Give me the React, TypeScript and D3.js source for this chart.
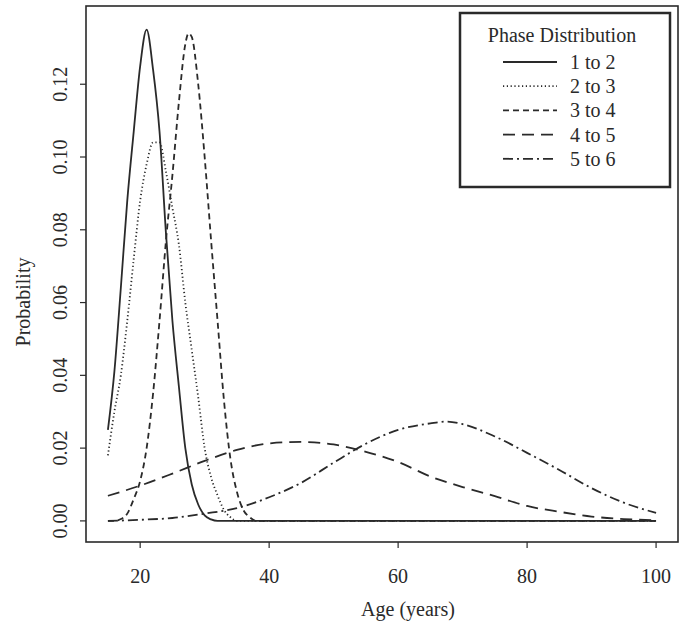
import React from 'react';
import * as d3 from 'd3';

// phase 1 to 2
const ages12 = [15, 16, 17, 18, 19, 20, 21, 22, 23, 24, 25, 26, 27, 28, 29, 30, 31, 32, 100];
const prob12 = [0.025, 0.041, 0.064, 0.088, 0.107, 0.125, 0.135, 0.124, 0.107, 0.079, 0.055, 0.037, 0.02, 0.01, 0.0045, 0.0015, 0.0004, 0, 0];

// phase 2 to 3
const ages23 = [15, 16, 17, 18, 19, 20, 21, 22, 23, 24, 25, 26, 27, 28, 29, 30, 31, 32, 33, 34, 35, 100];
const prob23 = [0.018, 0.03, 0.04, 0.055, 0.072, 0.088, 0.098, 0.104, 0.104, 0.096, 0.086, 0.076, 0.06, 0.047, 0.034, 0.02, 0.012, 0.007, 0.003, 0.001, 0, 0];

// phase 3 to 4
const ages34 = [15, 16, 17, 18, 19, 20, 21, 22, 23, 24, 25, 26, 27, 27.5, 28, 29, 30, 31, 32, 33, 34, 35, 36, 37, 38, 100];
const prob34 = [0, 0, 0.0005, 0.002, 0.006, 0.011, 0.02, 0.035, 0.055, 0.077, 0.095, 0.115, 0.131, 0.134, 0.133, 0.12, 0.1, 0.077, 0.055, 0.033, 0.017, 0.008, 0.003, 0.001, 0, 0];

// phase 4 to 5
const ages45 = [15, 20, 25, 30, 35, 40, 45, 50, 55, 60, 65, 70, 75, 80, 85, 90, 95, 100];
const prob45 = [0.0069, 0.0097, 0.013, 0.0165, 0.0195, 0.0213, 0.0217, 0.021, 0.019, 0.0162, 0.0122, 0.0093, 0.0068, 0.0041, 0.0025, 0.0012, 0.0005, 0.0002];

// phase 5 to 6
const ages56 = [15, 20, 25, 30, 35, 40, 45, 50, 55, 60, 65, 67.5, 70, 75, 80, 85, 90, 95, 100];
const prob56 = [0, 0.0003, 0.0008, 0.002, 0.0035, 0.0065, 0.0105, 0.016, 0.0212, 0.025, 0.0268, 0.0273, 0.0266, 0.0232, 0.0187, 0.014, 0.009, 0.005, 0.0022];

const xTicks = [20, 40, 60, 80, 100];
const yTicks = [0, 0.02, 0.04, 0.06, 0.08, 0.1, 0.12];
const legendLabels = ['1 to 2', '2 to 3', '3 to 4', '4 to 5', '5 to 6'];

const series = [
  { ages: ages12, probs: prob12, dash: 'none' },
  { ages: ages23, probs: prob23, dash: '1.2 2.6' },
  { ages: ages34, probs: prob34, dash: '6 4' },
  { ages: ages45, probs: prob45, dash: '12 7' },
  { ages: ages56, probs: prob56, dash: '10 4 2 4' },
];

const W = 685;
const H = 629;
const font = '"Liberation Serif", "Times New Roman", serif';
const ink = '#2a2a2a';

export default function App() {
  const x = d3.scaleLinear().domain([11.6, 103.4]).range([86, 678]);
  const y = d3.scaleLinear().domain([-0.0058, 0.1415]).range([542, 6]);

  const line = d3
    .line<[number, number]>()
    .x((d) => x(d[0]))
    .y((d) => y(d[1]))
    .curve(d3.curveMonotoneX);

  const [x0, x1] = x.range();
  const [yb, yt] = y.range();

  return (
    <svg width={W} height={H} style={{ position: 'absolute', left: 0, top: 0, background: '#fff' }}>
      <rect x={0} y={0} width={W} height={H} fill="#fff" />
      {series.map((s, i) => (
        <path
          key={i}
          d={line(s.ages.map((a, j) => [a, s.probs[j]] as [number, number])) || ''}
          fill="none"
          stroke={ink}
          strokeWidth={1.8}
          strokeDasharray={s.dash}
        />
      ))}
      {/* frame */}
      <rect x={x0} y={yt} width={x1 - x0} height={yb - yt} fill="none" stroke={ink} strokeWidth={1.6} />
      {/* x axis */}
      {xTicks.map((t) => (
        <g key={t}>
          <line x1={x(t)} x2={x(t)} y1={yb} y2={yb + 6} stroke={ink} strokeWidth={1.2} />
          <text x={x(t)} y={583} textAnchor="middle" fontFamily={font} fontSize={20} fill={ink}>
            {t}
          </text>
        </g>
      ))}
      {/* y axis */}
      {yTicks.map((t) => (
        <g key={t}>
          <line x1={x0} x2={x0 - 6} y1={y(t)} y2={y(t)} stroke={ink} strokeWidth={1.2} />
          <text
            transform={`translate(67,${y(t)}) rotate(-90)`}
            textAnchor="middle"
            fontFamily={font}
            fontSize={20}
            fill={ink}
          >
            {t.toFixed(2)}
          </text>
        </g>
      ))}
      <text x={408} y={616} textAnchor="middle" fontFamily={font} fontSize={20} fill={ink}>
        Age (years)
      </text>
      <text transform="translate(30,302) rotate(-90)" textAnchor="middle" fontFamily={font} fontSize={20} fill={ink}>
        Probability
      </text>
      {/* legend */}
      <g>
        <rect x={460} y={13} width={210} height={174} fill="#fff" stroke={ink} strokeWidth={2.5} />
        <text x={562} y={42} textAnchor="middle" fontFamily={font} fontSize={20} fill={ink}>
          Phase Distribution
        </text>
        {legendLabels.map((lab, i) => {
          const cy = 62 + i * 24.2;
          return (
            <g key={lab}>
              <line x1={503} x2={557} y1={cy} y2={cy} stroke={ink} strokeWidth={1.8} strokeDasharray={series[i].dash} />
              <text x={570} y={cy + 7} fontFamily={font} fontSize={20} fill={ink}>
                {lab}
              </text>
            </g>
          );
        })}
      </g>
    </svg>
  );
}
